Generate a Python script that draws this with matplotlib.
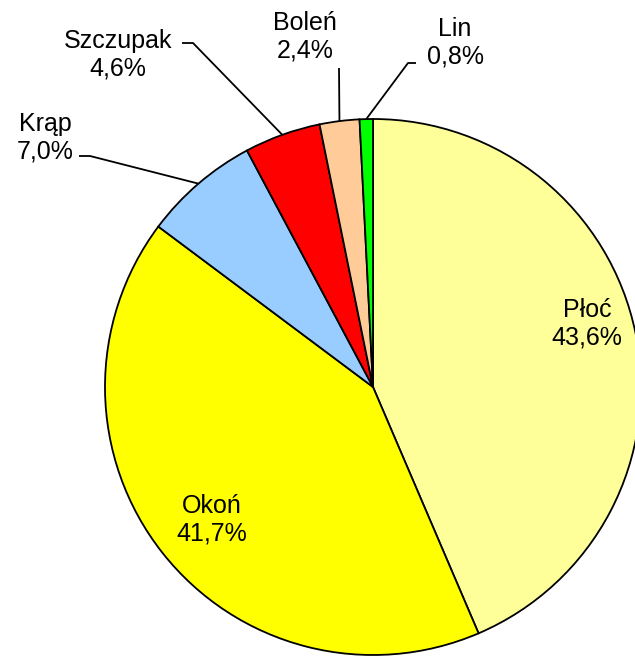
import numpy as np
import matplotlib
matplotlib.use('Agg')
import matplotlib.pyplot as plt

# Dane
gatunki = ['Płoć', 'Okoń', 'Krąp', 'Szczupak', 'Boleń', 'Lin']
udzialy = [43.6, 41.7, 7.0, 4.6, 2.4, 0.8]
kolory = ['#FFFF99', '#FFFF00', '#99CCFF', '#FF0000', '#FFCC99', '#00FF00']

plt.rcParams['font.family'] = ['Liberation Sans', 'DejaVu Sans']

W, H = 635, 657
CX, CY, R = 373, 387, 268


def px(x, y):
    # piksele obrazka -> współrzędne osi (promień koła = 1)
    return (x - CX) / R, (CY - y) / R


fig = plt.figure(figsize=(W / 100, H / 100), dpi=100)
ax = fig.add_axes([0, 0, 1, 1])

wedges, _ = ax.pie(udzialy, colors=kolory, startangle=90, counterclock=False,
                   radius=1, wedgeprops=dict(edgecolor='black', linewidth=1.3))

# granice osi ustawione po pie(), bo pie() je nadpisuje
ax.set_xlim(-CX / R, (W - CX) / R)
ax.set_ylim((CY - H) / R, CY / R)
ax.axis('off')

fs = 18
etykiety = [f"{g}\n{str(v).replace('.', ',')}%" for g, v in zip(gatunki, udzialy)]

# etykiety wewnątrz
wewn = {0: (587, 324), 1: (212, 520)}
for i, (x, y) in wewn.items():
    ax.text(*px(x, y), etykiety[i], ha='center', va='center', fontsize=fs,
            linespacing=1.2)

# etykiety zewnętrzne: (pozycja tekstu, punkt załamania, koniec linii przy tekście)
zewn = {
    2: ((45, 138), (90, 156), (79, 156)),
    3: ((118, 55), (193, 43), (182, 43)),
    4: ((305, 37), (339, 68), (339, 68)),
    5: ((455, 43), (408, 63), (416, 63)),
}
for i, (tpos, elbow, koniec) in zewn.items():
    w = wedges[i]
    kat = np.deg2rad((w.theta1 + w.theta2) / 2)
    ax_, ay_ = np.cos(kat), np.sin(kat)
    ex, ey = px(*elbow)
    kx, ky = px(*koniec)
    ax.plot([ax_, ex, kx], [ay_, ey, ky], color='black', lw=1.3,
            solid_capstyle='butt')
    ax.text(*px(*tpos), etykiety[i], ha='center', va='center', fontsize=fs,
            linespacing=1.2)

fig.savefig('out.png', dpi=100)
